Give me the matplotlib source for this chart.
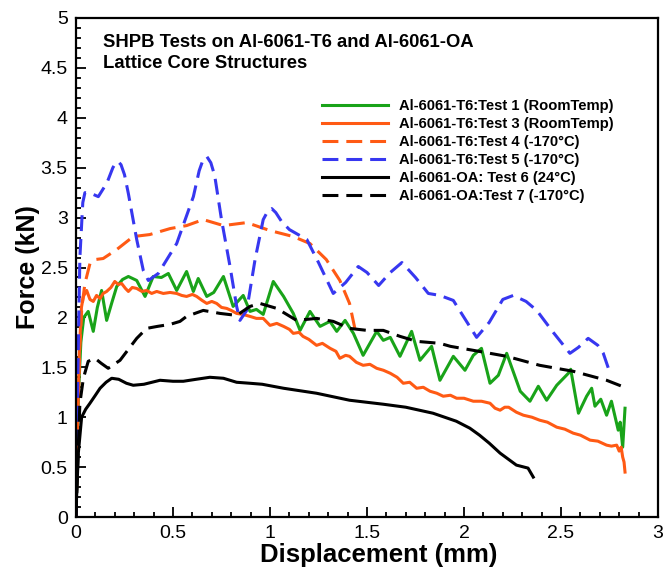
import matplotlib
matplotlib.use("Agg")
import matplotlib.pyplot as plt
from matplotlib.ticker import MultipleLocator

plt.rcParams['font.family'] = ['Liberation Sans', 'DejaVu Sans']

# --------------------------------
# Data (displacement mm, force kN)
# --------------------------------
t1_x = [0, 0.012, 0.025, 0.04, 0.063, 0.089, 0.11, 0.132, 0.158, 0.185,
        0.21, 0.24, 0.27, 0.313, 0.356, 0.398, 0.44, 0.476, 0.519, 0.57,
        0.605, 0.63, 0.674, 0.71, 0.76, 0.81, 0.862, 0.897, 0.93, 0.965,
        1.017, 1.07, 1.12, 1.155, 1.206, 1.258, 1.309, 1.344, 1.387, 1.43,
        1.48, 1.55, 1.584, 1.62, 1.67, 1.73, 1.773, 1.833, 1.876, 1.945,
        2.005, 2.048, 2.09, 2.134, 2.177, 2.22, 2.29, 2.34, 2.383, 2.426,
        2.478, 2.538, 2.55, 2.59, 2.632, 2.658, 2.675, 2.705, 2.735, 2.76,
        2.795, 2.805, 2.818, 2.83]
t1_y = [0, 1.2, 1.75, 2.0, 2.06, 1.86, 2.1, 2.27, 1.97, 2.15,
        2.31, 2.38, 2.41, 2.37, 2.21, 2.41, 2.40, 2.44, 2.27, 2.46,
        2.26, 2.39, 2.21, 2.25, 2.41, 2.11, 2.22, 2.06, 2.08, 2.03,
        2.36, 2.21, 2.04, 1.87, 2.06, 1.91, 1.96, 1.86, 1.97, 1.84,
        1.62, 1.86, 1.77, 1.80, 1.61, 1.86, 1.57, 1.71, 1.37, 1.61,
        1.47, 1.62, 1.69, 1.34, 1.42, 1.64, 1.26, 1.16, 1.31, 1.17,
        1.32, 1.44, 1.48, 1.04, 1.21, 1.29, 1.11, 1.18, 1.02, 1.16,
        0.87, 0.95, 0.70, 1.09]

t3_x = [0, 0.008, 0.018, 0.028, 0.038, 0.055, 0.072, 0.089, 0.106, 0.124,
        0.14, 0.158, 0.18, 0.2, 0.218, 0.235, 0.255, 0.27, 0.29, 0.313,
        0.34, 0.364, 0.39, 0.416, 0.45, 0.485, 0.519, 0.545, 0.57, 0.6,
        0.622, 0.65, 0.674, 0.7, 0.725, 0.75, 0.777, 0.8, 0.828, 0.86,
        0.897, 0.93, 0.965, 1.0, 1.035, 1.07, 1.1, 1.12, 1.15, 1.17,
        1.2, 1.24, 1.27, 1.31, 1.34, 1.36, 1.39, 1.41, 1.445, 1.48,
        1.515, 1.55, 1.585, 1.62, 1.655, 1.687, 1.72, 1.756, 1.79, 1.825,
        1.86, 1.893, 1.93, 1.962, 2.0, 2.048, 2.09, 2.134, 2.16, 2.186,
        2.21, 2.23, 2.27, 2.306, 2.35, 2.39, 2.43, 2.478, 2.52, 2.563,
        2.6, 2.65, 2.69, 2.735, 2.76, 2.787, 2.8, 2.81, 2.818, 2.825, 2.83]
t3_y = [0, 0.9, 1.7, 2.1, 2.21, 2.27, 2.18, 2.16, 2.22, 2.19,
        2.24, 2.26, 2.30, 2.36, 2.33, 2.34, 2.29, 2.26, 2.30, 2.29,
        2.26, 2.27, 2.24, 2.26, 2.24, 2.25, 2.24, 2.22, 2.21, 2.23,
        2.21, 2.17, 2.14, 2.16, 2.14, 2.10, 2.09, 2.07, 2.04, 2.03,
        2.01, 1.99, 1.99, 1.92, 1.94, 1.91, 1.88, 1.84, 1.85, 1.81,
        1.78, 1.72, 1.74, 1.69, 1.66, 1.59, 1.62, 1.61, 1.55, 1.52,
        1.53, 1.49, 1.47, 1.44, 1.40, 1.34, 1.35, 1.29, 1.30, 1.26,
        1.24, 1.21, 1.22, 1.19, 1.19, 1.16, 1.16, 1.14, 1.09, 1.07,
        1.10, 1.10, 1.05, 1.02, 1.00, 0.97, 0.95, 0.90, 0.88, 0.84,
        0.82, 0.77, 0.76, 0.72, 0.71, 0.72, 0.66, 0.70, 0.60, 0.55, 0.45]

t4_x = [0, 0.01, 0.02, 0.03, 0.046, 0.072, 0.1, 0.14, 0.21, 0.295,
        0.38, 0.485, 0.57, 0.656, 0.76, 0.88, 1.0, 1.12, 1.206, 1.29,
        1.36, 1.41, 1.445]
t4_y = [0, 1.0, 1.7, 2.1, 2.34, 2.54, 2.58, 2.59, 2.68, 2.81,
        2.83, 2.89, 2.92, 2.98, 2.92, 2.95, 2.87, 2.81, 2.74, 2.58,
        2.37, 2.14, 1.82]

t5_x = [0, 0.01, 0.02, 0.035, 0.046, 0.08, 0.115, 0.16, 0.19, 0.205,
        0.218, 0.232, 0.25, 0.27, 0.313, 0.347, 0.373, 0.424, 0.519, 0.605,
        0.635, 0.655, 0.675, 0.695, 0.715, 0.75, 0.794, 0.828, 0.845, 0.88,
        0.923, 0.965, 0.99, 1.009, 1.03, 1.06, 1.10, 1.19, 1.25, 1.326,
        1.39, 1.455, 1.5, 1.56, 1.62, 1.68, 1.75, 1.816, 1.876, 1.945,
        2.0, 2.065, 2.13, 2.20, 2.254, 2.32, 2.375, 2.46, 2.546, 2.59,
        2.64, 2.69, 2.718, 2.753]
t5_y = [0, 1.5, 2.6, 3.15, 3.25, 3.24, 3.21, 3.35, 3.5, 3.55,
        3.56, 3.53, 3.43, 3.24, 2.78, 2.47, 2.37, 2.44, 2.74, 3.21,
        3.47, 3.58, 3.61, 3.55, 3.42, 2.98, 2.51, 2.11, 1.97, 2.07,
        2.58, 2.98, 3.07, 3.09, 3.05, 2.96, 2.88, 2.78, 2.55, 2.24,
        2.35, 2.51, 2.45, 2.32, 2.45, 2.55, 2.40, 2.24, 2.22, 2.17,
        2.0, 1.80, 1.95, 2.18, 2.22, 2.16, 2.07, 1.85, 1.64, 1.70,
        1.79, 1.72, 1.64, 1.44]

t6_x = [0, 0.003, 0.012, 0.029, 0.05, 0.072, 0.1, 0.124, 0.155, 0.184,
        0.22, 0.26, 0.295, 0.35, 0.433, 0.5, 0.553, 0.62, 0.69, 0.76,
        0.828, 0.897, 0.96, 1.07, 1.24, 1.41, 1.584, 1.70, 1.84, 1.96,
        2.03, 2.08, 2.13, 2.186, 2.27, 2.33, 2.357]
t6_y = [0, 0.2, 0.64, 1.0, 1.08, 1.14, 1.22, 1.29, 1.35, 1.39,
        1.38, 1.34, 1.32, 1.33, 1.37, 1.36, 1.36, 1.38, 1.40, 1.39,
        1.35, 1.34, 1.33, 1.29, 1.24, 1.17, 1.13, 1.10, 1.04, 0.96,
        0.89, 0.82, 0.74, 0.64, 0.52, 0.49, 0.40]

t7_x = [0, 0.01, 0.02, 0.038, 0.063, 0.098, 0.13, 0.166, 0.227, 0.27,
        0.313, 0.364, 0.42, 0.485, 0.536, 0.57, 0.656, 0.742, 0.828, 0.897,
        0.948, 1.035, 1.137, 1.24, 1.326, 1.41, 1.5, 1.584, 1.67, 1.756,
        1.876, 1.93, 2.048, 2.22, 2.39, 2.563, 2.735, 2.84]
t7_y = [0, 0.6, 1.14, 1.39, 1.56, 1.59, 1.54, 1.49, 1.57, 1.68,
        1.79, 1.89, 1.91, 1.93, 1.96, 2.01, 2.07, 2.04, 2.02, 2.11,
        2.14, 2.09, 1.97, 1.99, 1.96, 1.89, 1.87, 1.87, 1.81, 1.76,
        1.74, 1.71, 1.67, 1.61, 1.52, 1.46, 1.37, 1.29]

labels = ["Al-6061-T6:Test 1 (RoomTemp)",
          "Al-6061-T6:Test 3 (RoomTemp)",
          "Al-6061-T6:Test 4 (-170°C)",
          "Al-6061-T6:Test 5 (-170°C)",
          "Al-6061-OA: Test 6 (24°C)",
          "Al-6061-OA:Test 7 (-170°C)"]

GREEN = "#19a319"
ORANGE = "#ff5a14"
BLUE = "#3737f0"
DASH = (5.2, 2.6)

# --------------------------------
# Plotting
# --------------------------------
fig = plt.figure(figsize=(6.64, 5.74), dpi=100)
ax = fig.add_axes([76 / 664, 57 / 574, 582 / 664, 499 / 574])

lw = 2.2
ax.plot(t1_x, t1_y, color=GREEN, lw=lw, label=labels[0])
ax.plot(t3_x, t3_y, color=ORANGE, lw=lw, label=labels[1])
ax.plot(t4_x, t4_y, color=ORANGE, lw=lw, dashes=DASH, label=labels[2])
ax.plot(t5_x, t5_y, color=BLUE, lw=lw, dashes=DASH, label=labels[3])
ax.plot(t6_x, t6_y, color="black", lw=lw, label=labels[4])
ax.plot(t7_x, t7_y, color="black", lw=lw, dashes=DASH, label=labels[5])

ax.set_xlim(0, 3)
ax.set_ylim(0, 5)
ax.xaxis.set_major_locator(MultipleLocator(0.5))
ax.xaxis.set_minor_locator(MultipleLocator(0.1))
ax.yaxis.set_major_locator(MultipleLocator(0.5))
ax.yaxis.set_minor_locator(MultipleLocator(0.1))
ax.xaxis.set_major_formatter(plt.FuncFormatter(lambda v, p: f"{v:g}"))
ax.yaxis.set_major_formatter(plt.FuncFormatter(lambda v, p: f"{v:g}"))

ax.tick_params(which="both", direction="in", top=False, right=False,
               labelsize=14, width=1.3)
ax.tick_params(which="major", length=7, pad=6)
ax.tick_params(which="minor", length=3.5)
for s in ax.spines.values():
    s.set_linewidth(1.6)

ax.set_xlabel("Displacement (mm)", fontsize=18.5, fontweight="bold", labelpad=0)
ax.xaxis.set_label_coords(0.52, -0.052)
ax.set_ylabel("Force (kN)", fontsize=18, fontweight="bold", labelpad=0)

ax.text(0.046, 0.967, "SHPB Tests on Al-6061-T6 and Al-6061-OA\nLattice Core Structures",
        transform=ax.transAxes, fontsize=13.3, fontweight="bold",
        va="top", ha="left", linespacing=1.3)

ax.legend(loc="upper left", bbox_to_anchor=(0.423, 0.838), frameon=False,
          prop={"weight": "bold", "size": 10.6}, handlelength=4.5,
          handletextpad=0.7, labelspacing=0.28, borderpad=0, borderaxespad=0)

fig.savefig("out.png", dpi=100)
